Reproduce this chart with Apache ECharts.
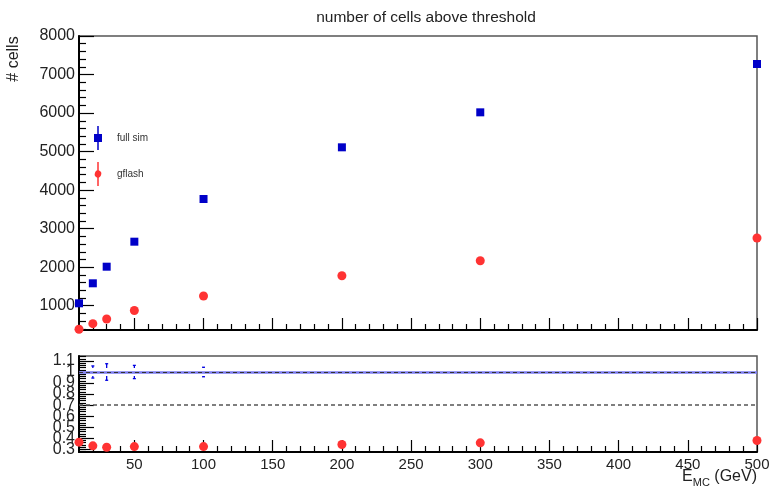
<!DOCTYPE html>
<html>
<head>
<meta charset="utf-8">
<script src="https://cdn.jsdelivr.net/npm/echarts@6/dist/echarts.min.js"></script>
<style>
html,body{margin:0;padding:0;background:#fff;}
#chart{width:773px;height:487px;}
</style>
</head>
<body>
<div id="chart"></div>
<script>
// ---- data ----
const energies = [10, 20, 30, 50, 100, 200, 300, 500];
const fullSim = [1063, 1582, 2013, 2662, 3770, 5111, 6019, 7273];
const gflash = [388, 535, 655, 875, 1252, 1779, 2168, 2757];
const ratioGflash = [0.364, 0.331, 0.318, 0.324, 0.324, 0.343, 0.358, 0.379];
const ratioFullErr = [0, 0.055, 0.075, 0.06, 0.043, 0, 0, 0];
const xTickLabels = [50, 100, 150, 200, 250, 300, 350, 400, 450, 500];
const topYTickLabels = [1000, 2000, 3000, 4000, 5000, 6000, 7000, 8000];
const bottomYTickLabels = [0.3, 0.4, 0.5, 0.6, 0.7, 0.8, 0.9, 1, 1.1];
const refLines = [1, 0.7];

// minor tick positions
const xMinor = [];
for (let v = 20; v < 500; v += 10) if (v % 50 !== 0) xMinor.push(v);
const topYMinor = [];
for (let v = 400; v < 8000; v += 200) if (v % 1000 !== 0) topYMinor.push(v);
const botYMinor = [];
for (let k = 28; k <= 114; k += 2) if (k % 10 !== 0) botYMinor.push(k / 100);
// bottom labels overlap heavily (as in the reference); split them over two axes so none is dropped
const botLabelsA = bottomYTickLabels.filter((v, i) => i % 2 === 0);
const botLabelsB = bottomYTickLabels.filter((v, i) => i % 2 === 1);

const X_MIN = 10, X_MAX = 500;
const TOP_MIN = 370, TOP_MAX = 8000;
const BOT_MIN = 0.275, BOT_MAX = 1.145;

const labelColor = '#222';
const font = 'Liberation Sans, Arial, Helvetica, sans-serif';

function xAxisDef(grid, ticks, len, labels, line) {
  return {
    type: 'value', gridIndex: grid, min: X_MIN, max: X_MAX, position: 'bottom', offset: 0,
    axisLine: { show: line, onZero: false, lineStyle: { color: '#000', width: 2 } },
    axisTick: { show: true, inside: true, length: len, customValues: ticks, lineStyle: { color: '#000', width: 1.2 } },
    axisLabel: labels ? { show: true, customValues: ticks, fontSize: 15, color: labelColor, fontFamily: font, margin: 5,
      showMinLabel: true, showMaxLabel: true, hideOverlap: false, formatter: v => String(v) } : { show: false },
    splitLine: { show: false }, minorTick: { show: false }
  };
}
function yAxisDef(grid, min, max, ticks, len, labels, line, showTicks) {
  return {
    type: 'value', gridIndex: grid, min: min, max: max, position: 'left', offset: 0,
    axisLine: { show: line, onZero: false, lineStyle: { color: '#000', width: 2 } },
    axisTick: { show: showTicks !== false, inside: true, length: len, customValues: ticks, lineStyle: { color: '#000', width: 1.2 } },
    axisLabel: labels ? { show: true, customValues: labels, fontSize: 16, color: labelColor, fontFamily: font, margin: 4,
      showMinLabel: true, showMaxLabel: true, hideOverlap: false, formatter: v => String(v) } : { show: false },
    splitLine: { show: false }, minorTick: { show: false }
  };
}

const chart = echarts.init(document.getElementById('chart'), null, { renderer: 'canvas' });
chart.setOption({
  animation: false,
  backgroundColor: '#fff',
  title: {
    text: 'number of cells above threshold', left: 421, top: 5, textAlign: 'center',
    textStyle: { fontSize: 15.5, fontWeight: 'normal', color: labelColor, fontFamily: font }
  },
  legend: {
    data: [
      { name: 'full sim', icon: 'path://M4.25,0H5.75V8H9V16H5.75V24H4.25V16H1V8H4.25Z' },
      { name: 'gflash', icon: 'path://M4.25,0H5.75V8.3A4,4,0,0,1,5.75,15.7V24H4.25V15.7A4,4,0,0,1,4.25,8.3Z' }
    ],
    orient: 'vertical', left: 94, top: 126, padding: 0, itemWidth: 10, itemHeight: 24, itemGap: 12,
    selectedMode: false,
    textStyle: { fontSize: 10, color: '#333', fontFamily: font, padding: [0, 0, 0, 9] }
  },
  grid: [
    { left: 79, top: 36, right: 16, height: 294, show: true, borderColor: '#555', borderWidth: 1.5, backgroundColor: 'transparent' },
    { left: 79, top: 356, right: 16, height: 96, show: true, borderColor: '#555', borderWidth: 1.5, backgroundColor: 'transparent' }
  ],
  xAxis: [
    xAxisDef(0, xTickLabels, 12, false, true),
    xAxisDef(0, xMinor, 6, false, false),
    xAxisDef(1, xTickLabels, 12, true, true),
    xAxisDef(1, xMinor, 6, false, false)
  ],
  yAxis: [
    yAxisDef(0, TOP_MIN, TOP_MAX, topYTickLabels, 15, topYTickLabels, true),
    yAxisDef(0, TOP_MIN, TOP_MAX, topYMinor, 7, null, false),
    yAxisDef(1, BOT_MIN, BOT_MAX, bottomYTickLabels, 15, botLabelsA, true),
    yAxisDef(1, BOT_MIN, BOT_MAX, botYMinor, 7, null, false),
    yAxisDef(1, BOT_MIN, BOT_MAX, botLabelsB, 15, botLabelsB, false, false)
  ],
  graphic: [
    {
      type: 'text', x: 14, y: 59, rotation: Math.PI / 2,
      style: { text: '# cells', fontSize: 16, fill: labelColor, fontFamily: font, align: 'center', verticalAlign: 'middle' }
    },
    {
      type: 'text', x: 757, y: 485,
      style: {
        text: '{a|E}{b|MC}{a| (GeV)}', align: 'right', verticalAlign: 'bottom',
        rich: {
          a: { fontSize: 16, fill: labelColor, fontFamily: font, lineHeight: 18, verticalAlign: 'bottom' },
          b: { fontSize: 11, fill: labelColor, fontFamily: font, lineHeight: 18, verticalAlign: 'bottom', padding: [0, 0, -3, 0] }
        }
      }
    }
  ],
  series: [
    {
      name: 'full sim', type: 'scatter', xAxisIndex: 0, yAxisIndex: 0,
      symbol: 'rect', symbolSize: 8, itemStyle: { color: '#0000c8', opacity: 1 },
      data: energies.map((e, i) => [e, fullSim[i]]), z: 5
    },
    {
      name: 'gflash', type: 'scatter', xAxisIndex: 0, yAxisIndex: 0,
      symbol: 'circle', symbolSize: 9, itemStyle: { color: '#ff3333', opacity: 1 },
      data: energies.map((e, i) => [e, gflash[i]]), z: 5
    },
    {
      name: 'ratio gflash', type: 'scatter', xAxisIndex: 2, yAxisIndex: 2,
      symbol: 'circle', symbolSize: 9, itemStyle: { color: '#ff3333', opacity: 1 },
      data: energies.map((e, i) => [e, ratioGflash[i]]), z: 5,
      markLine: {
        silent: true, symbol: 'none', label: { show: false }, animation: false,
        data: [
          { yAxis: refLines[0], lineStyle: { color: '#7b7bf0', width: 2.5, type: 'solid' } },
          { yAxis: refLines[0], lineStyle: { color: '#333', width: 1, type: [4, 3] } },
          { yAxis: refLines[1], lineStyle: { color: '#555', width: 1.5, type: [4, 3] } }
        ]
      }
    },
    {
      name: 'ratio full sim', type: 'custom', xAxisIndex: 2, yAxisIndex: 2, z: 6,
      data: energies.map((e, i) => [e, ratioFullErr[i]]),
      renderItem: function (params, api) {
        const x = api.value(0), err = api.value(1);
        if (!(err > 0)) return null;
        const c = api.coord([x, refLines[0]]);
        const hi = api.coord([x, refLines[0] + err]);
        const lo = api.coord([x, refLines[0] - err]);
        const gap = 4;
        const st = { stroke: '#0000e0', lineWidth: 1.3 };
        const children = [];
        if (hi[1] < c[1] - gap) {
          children.push({ type: 'line', shape: { x1: c[0], y1: c[1] - gap, x2: hi[0], y2: hi[1] }, style: st });
          children.push({ type: 'line', shape: { x1: c[0] - 1.5, y1: hi[1], x2: c[0] + 1.5, y2: hi[1] }, style: st });
        }
        if (lo[1] > c[1] + gap && lo[1] < params.coordSys.y + params.coordSys.height) {
          children.push({ type: 'line', shape: { x1: c[0], y1: c[1] + gap, x2: lo[0], y2: lo[1] }, style: st });
          children.push({ type: 'line', shape: { x1: c[0] - 1.5, y1: lo[1], x2: c[0] + 1.5, y2: lo[1] }, style: st });
        }
        return { type: 'group', children: children };
      }
    }
  ]
});
</script>
</body>
</html>
